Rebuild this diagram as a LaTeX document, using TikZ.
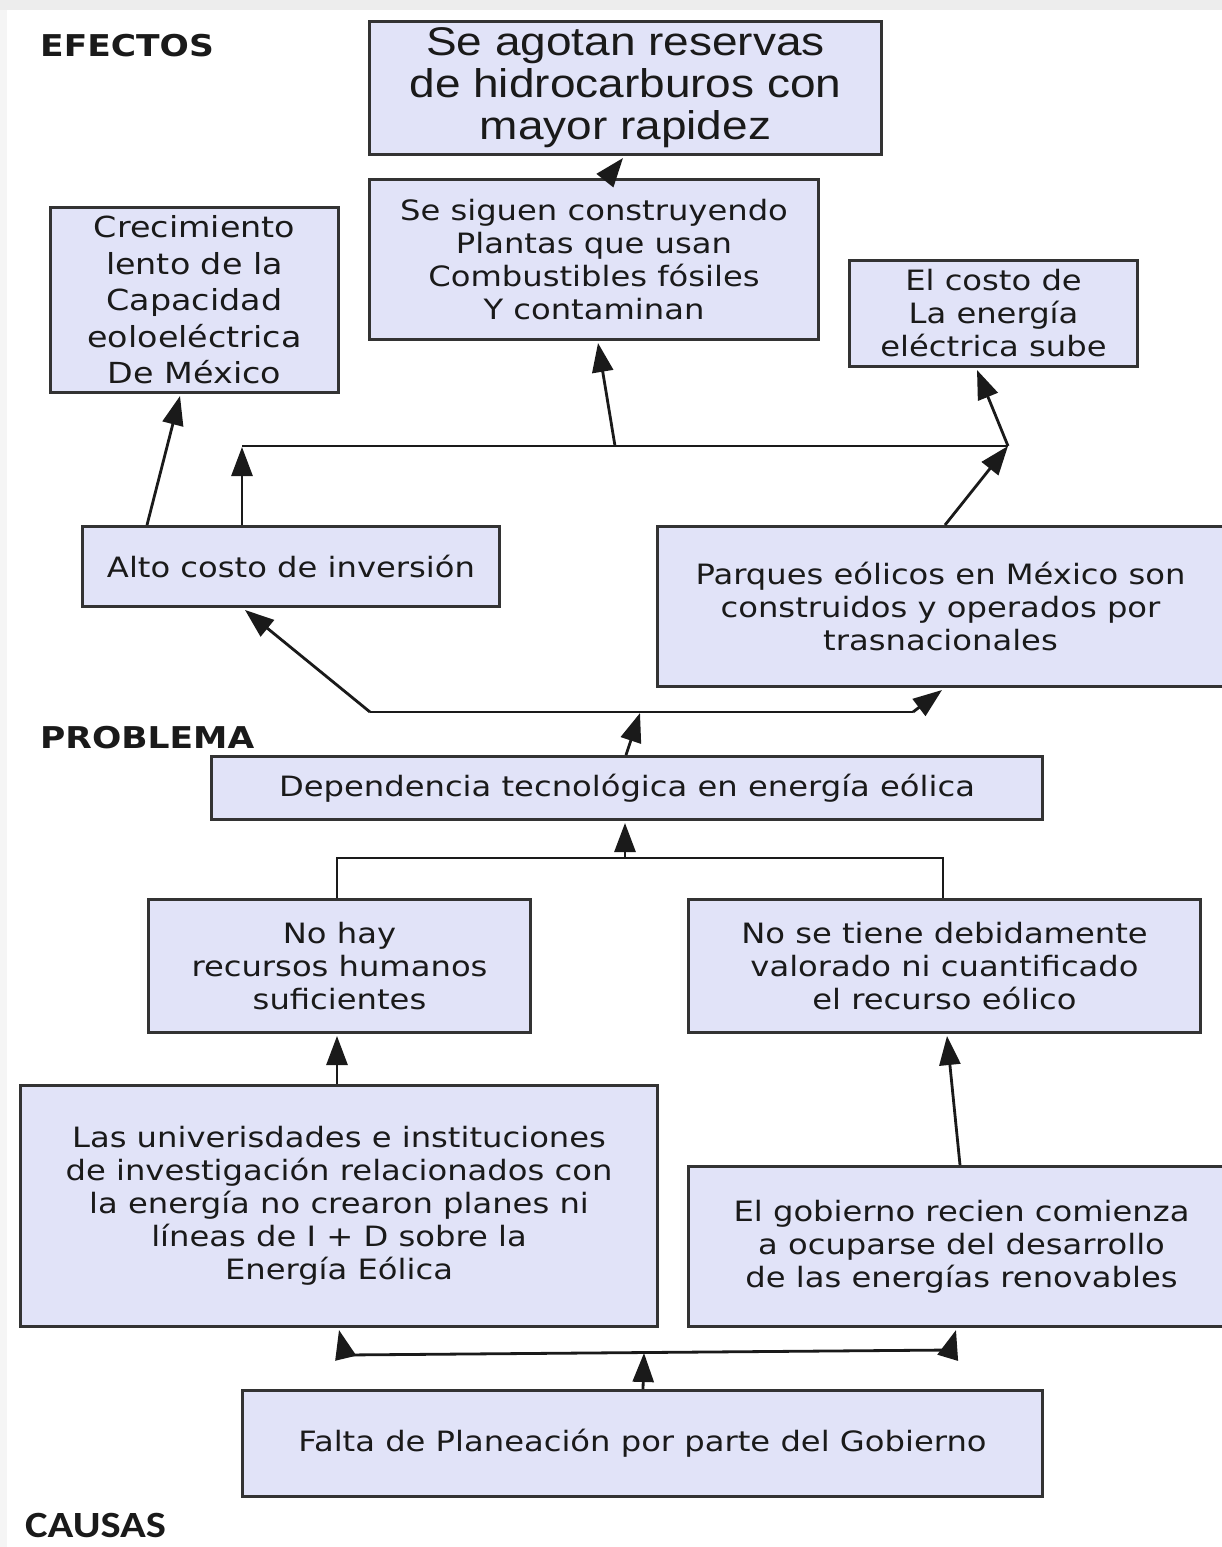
\documentclass[tikz,border=0pt]{standalone}
\usepackage{fontspec}
\setmainfont{DejaVu Sans}[FakeStretch=1.15]
\newfontfamily\titlefont{Liberation Sans}[FakeStretch=1.15]
\newfontfamily\causasfont{Carlito}[FakeStretch=1.15]
\usetikzlibrary{arrows.meta,calc}
\definecolor{boxfill}{HTML}{E1E3F8}
\definecolor{boxline}{HTML}{333333}
\definecolor{ink}{HTML}{1A1A1A}
\begin{document}
\begin{tikzpicture}[x=1pt,y=-1pt,
  box/.style={draw=boxline, line width=3pt, fill=boxfill, anchor=north west, align=center,
    inner sep=0pt, text=ink, font=\fontsize{28pt}{33pt}\selectfont},
  link/.style={draw=ink, line width=2.8pt},
  arr/.style={link, -{Triangle[length=29pt,width=21pt]}},
  head/.style={anchor=west, inner sep=0pt, text=ink, font=\bfseries\fontsize{30pt}{30pt}\selectfont}]
\clip (0,0) rectangle (1222,1547);
\fill[white] (0,0) rectangle (1222,1547);
\fill[black!7] (0,0) rectangle (1222,10);
\fill[black!4] (0,10) rectangle (7,1547);

% headings
\node[head] (hEf) at (40,46) {EFECTOS};
\node[head] (hPr) at (40,738) {PROBLEMA};
\node[anchor=west, inner sep=0pt, text=ink, font=\causasfont\bfseries\fontsize{37pt}{37pt}\selectfont] (hCa) at (25,1525) {CAUSAS};

% boxes
\node[box, minimum width=512pt, minimum height=133pt, font=\titlefont\fontsize{40pt}{42pt}\selectfont] (b1) at (368,20)
  {Se agotan reservas\\de hidrocarburos con\\mayor rapidez};
\node[box, minimum width=449pt, minimum height=160pt] (b2) at (368,178)
  {Se siguen construyendo\\Plantas que usan\\Combustibles fósiles\\Y contaminan};
\node[box, minimum width=288pt, minimum height=185pt, font=\fontsize{29pt}{36.5pt}\selectfont] (b3) at (49,206)
  {Crecimiento\\lento de la\\Capacidad\\eoloeléctrica\\De México};
\node[box, minimum width=288pt, minimum height=106pt] (b4) at (848,259)
  {El costo de\\La energía\\eléctrica sube};
\node[box, minimum width=417pt, minimum height=80pt] (b5) at (81,525)
  {Alto costo de inversión};
\node[box, minimum width=566pt, minimum height=160pt] (b6) at (656,525)
  {Parques eólicos en México son\\construidos y operados por\\trasnacionales};
\node[box, minimum width=831pt, minimum height=63pt] (b7) at (210,755)
  {Dependencia tecnológica en energía eólica};
\node[box, minimum width=382pt, minimum height=133pt] (b8) at (147,898)
  {No hay\\recursos humanos\\suficientes};
\node[box, minimum width=512pt, minimum height=133pt] (b9) at (687,898)
  {No se tiene debidamente\\valorado ni cuantificado\\el recurso eólico};
\node[box, minimum width=637pt, minimum height=241pt] (b10) at (19,1084)
  {Las univerisdades e instituciones\\de investigación relacionados con\\la energía no crearon planes ni\\líneas de I + D sobre la\\Energía Eólica};
\node[box, minimum width=546pt, minimum height=160pt] (b11) at (687,1165)
  {El gobierno recien comienza\\a ocuparse del desarrollo\\de las energías renovables};
\node[box, minimum width=800pt, minimum height=106pt] (b12) at (241,1389)
  {Falta de Planeación por parte del Gobierno};

% junction points
\coordinate (jL) at (242,446);
\coordinate (jM) at (615,446);
\coordinate (jR) at (1008,446);
\coordinate (kL) at (370,712);
\coordinate (kR) at (913,712);
\coordinate (kM) at (640,713);
\coordinate (mL) at (337,858);
\coordinate (mM) at (625,858);
\coordinate (mR) at (943,858);
\coordinate (nL) at (345,1355);
\coordinate (nM) at (644,1353);
\coordinate (nR) at (950,1350);

% effects level
\draw[arr] ($(b2.north west)+(239,0)$) -- ($(b1.south west)+(255,2)$);
\draw[link] (jL) -- (jR);
\draw[arr] (jM) -- ($(b2.south west)+(230,2)$);
\draw[arr] (jR) -- ($(b4.south west)+(129,2)$);
\draw[arr] ($(b5.north west)+(161,0)$) -- ($(jL)+(0,1)$);
\draw[arr] ($(b5.north west)+(66,0)$) -- ($(b3.south west)+(131,2)$);
\draw[arr] ($(b6.north west)+(289,0)$) -- (jR);

% problem level
\draw[link] (kL) -- (kR);
\draw[arr] (kL) -- ($(b5.south west)+(164,2)$);
\draw[arr] (kR) -- ($(b6.south west)+(286,2)$);
\draw[arr] ($(b7.north west)+(416,0)$) -- (kM);

% causes level
\draw[link] ($(b8.north west)+(190,0)$) |- (mL) -- (mR) -- ($(b9.north west)+(256,0)$);
\draw[arr] (mM) -- ($(b7.south west)+(415,2)$);
\draw[arr] ($(b10.north west)+(318,0)$) -- ($(b8.south west)+(190,2)$);
\draw[arr] ($(b11.north west)+(273,0)$) -- ($(b9.south west)+(260,2)$);
\draw[link] (nL) -- (nR);
\draw[arr] (nL) -- ($(b10.south west)+(320,2)$);
\draw[arr] (nR) -- ($(b11.south west)+(269,2)$);
\draw[arr] ($(b12.north west)+(402,0)$) -- (nM);
\end{tikzpicture}
\end{document}
